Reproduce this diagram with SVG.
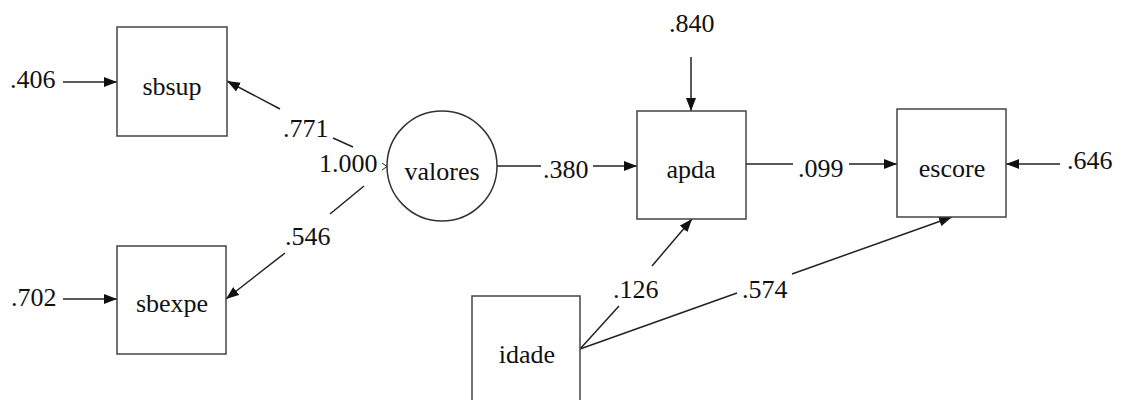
<svg xmlns="http://www.w3.org/2000/svg" width="1123" height="400" viewBox="0 0 1123 400">
  <defs>
    <marker id="head" viewBox="0 0 13 10" refX="13" refY="5" markerWidth="13" markerHeight="10" markerUnits="userSpaceOnUse" orient="auto">
      <path d="M0,0 L13,5 L0,10 z" fill="#111"/>
    </marker>
  </defs>
  <rect width="1123" height="400" fill="#fff"/>

  <!-- paths; arrowheads come from the shared marker -->
  <g id="connectors" stroke="#222" stroke-width="1.5" fill="none">
    <line x1="63" y1="82" x2="117" y2="82" marker-end="url(#head)"/>
    <line x1="280" y1="109" x2="227" y2="81" marker-end="url(#head)"/>
    <line x1="333" y1="138" x2="353" y2="147"/>
    <line x1="330" y1="214" x2="364" y2="186"/>
    <line x1="285" y1="253" x2="226" y2="299" marker-end="url(#head)"/>
    <line x1="63" y1="299" x2="117" y2="299" marker-end="url(#head)"/>
    <polyline points="382,163 387,166.5 382,170" stroke-width="1"/>
    <line x1="497" y1="166" x2="541" y2="166"/>
    <line x1="593" y1="166" x2="637" y2="166" marker-end="url(#head)"/>
    <line x1="691" y1="57" x2="691" y2="111" marker-end="url(#head)"/>
    <line x1="746" y1="164" x2="793" y2="164"/>
    <line x1="849" y1="164" x2="897" y2="164" marker-end="url(#head)"/>
    <line x1="1060" y1="164" x2="1006" y2="164" marker-end="url(#head)"/>
    <line x1="580" y1="349" x2="619" y2="306"/>
    <line x1="652" y1="266" x2="692" y2="219" marker-end="url(#head)"/>
    <line x1="580" y1="349" x2="737" y2="293"/>
    <line x1="792" y1="274" x2="952" y2="217" marker-end="url(#head)"/>
  </g>

  <!-- path coefficients -->
  <g id="labels" font-family="Liberation Serif" font-size="26" fill="#111">
    <text x="10" y="88">.406</text>
    <text x="283" y="137">.771</text>
    <text x="319" y="172">1.000</text>
    <text x="285" y="245">.546</text>
    <text x="11" y="306">.702</text>
    <text x="543" y="178">.380</text>
    <text x="669" y="32">.840</text>
    <text x="798" y="177">.099</text>
    <text x="1067" y="169">.646</text>
    <text x="613" y="298">.126</text>
    <text x="742" y="298">.574</text>
  </g>

  <g id="nodes" font-family="Liberation Serif" font-size="26" text-anchor="middle">
    <g id="sbsup">
      <rect x="117" y="27" width="110" height="109" fill="#fff" stroke="#444" stroke-width="1.5"/>
      <text x="172" y="95" fill="#111">sbsup</text>
    </g>
    <g id="sbexpe">
      <rect x="117" y="246" width="109" height="108" fill="#fff" stroke="#444" stroke-width="1.5"/>
      <text x="172" y="312" fill="#111">sbexpe</text>
    </g>
    <g id="valores">
      <circle cx="442" cy="166" r="55" fill="#fff" stroke="#333" stroke-width="1.5"/>
      <text x="442" y="180" fill="#111">valores</text>
    </g>
    <g id="apda">
      <rect x="637" y="111" width="109" height="108" fill="#fff" stroke="#444" stroke-width="1.5"/>
      <text x="691" y="178" fill="#111">apda</text>
    </g>
    <g id="escore">
      <rect x="897" y="109" width="109" height="108" fill="#fff" stroke="#444" stroke-width="1.5"/>
      <text x="952" y="177" fill="#111">escore</text>
    </g>
    <g id="idade">
      <rect x="472" y="296" width="108" height="109" fill="#fff" stroke="#444" stroke-width="1.5"/>
      <text x="527" y="363" fill="#111">idade</text>
    </g>
  </g>
</svg>
